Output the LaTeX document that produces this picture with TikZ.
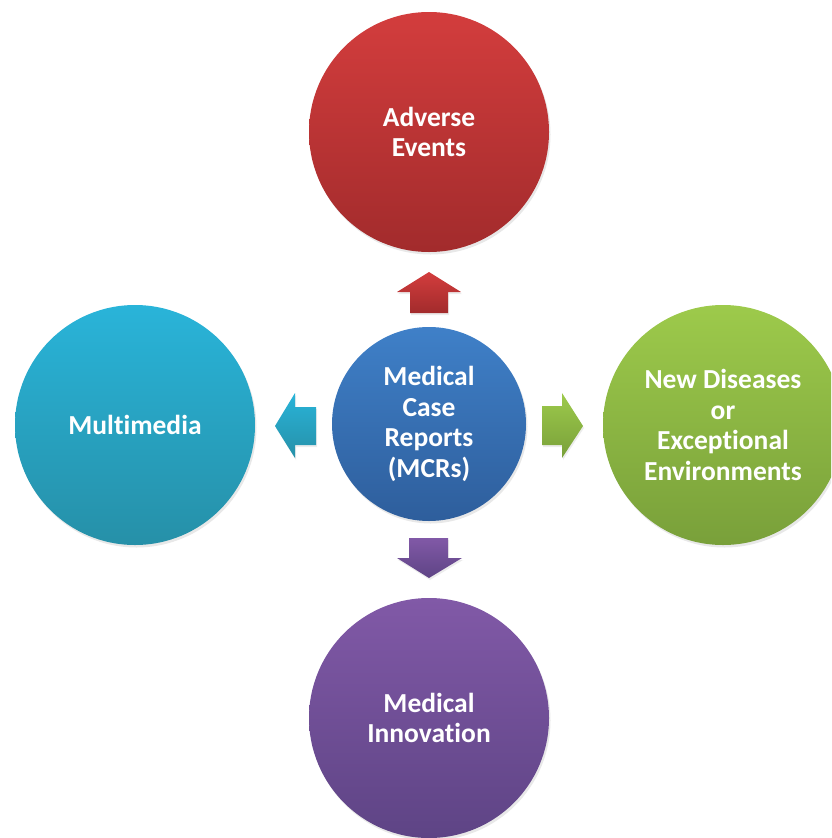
\documentclass[tikz,border=0pt]{standalone}
\usepackage{fontspec}
\setmainfont[Ligatures=NoCommon]{Carlito}
\usetikzlibrary{shadows}
\definecolor{redT}{HTML}{D33D3D}
\definecolor{redB}{HTML}{A22B2C}
\definecolor{bluT}{HTML}{3F80C8}
\definecolor{bluB}{HTML}{2E5E9C}
\definecolor{cyaT}{HTML}{29B4D9}
\definecolor{cyaB}{HTML}{2690A8}
\definecolor{griT}{HTML}{9DCA4B}
\definecolor{griB}{HTML}{79A03A}
\definecolor{purT}{HTML}{8159A7}
\definecolor{purB}{HTML}{5E4485}
\begin{document}
\begin{tikzpicture}[x=1pt,y=-1pt,
  bubble/.style={circle, inner sep=0pt, minimum size=240pt, text=white, align=center,
    font=\bfseries\fontsize{27.5}{30.5}\selectfont,
    drop shadow={opacity=0.18, shadow xshift=1.5pt, shadow yshift=-2.5pt}},
  blk/.style={drop shadow={opacity=0.15, shadow xshift=1pt, shadow yshift=-2pt}}]
\useasboundingbox (0,0) rectangle (831,838);
\clip (0,0) rectangle (831,838);
% circles
\node[bubble, top color=redT, bottom color=redB] (adv) at (429,132) {Adverse\\Events};
\node[bubble, top color=cyaT, bottom color=cyaB] (mul) at (135,425) {Multimedia};
\node[bubble, top color=griT, bottom color=griB] (new) at (723,425) {New Diseases\\or\\Exceptional\\Environments};
\node[bubble, top color=purT, bottom color=purB] (inn) at (429,718) {Medical\\Innovation};
\node[bubble, minimum size=194pt, top color=bluT, bottom color=bluB] (mcr) at (429,424) {Medical\\Case\\Reports\\(MCRs)};
% block arrows
\shade[blk, top color=redT, bottom color=redB]
  (397,292) -- (429,272) -- (461,292) -- (448,292) -- (448,313) -- (410,313) -- (410,292) -- cycle;
\shade[blk, top color=purT, bottom color=purB]
  (409,538) -- (448,538) -- (448,558) -- (462,558) -- (429,578) -- (397,558) -- (409,558) -- cycle;
\shade[blk, top color=cyaT, bottom color=cyaB]
  (275,426) -- (295,393) -- (295,407) -- (316,407) -- (316,445) -- (295,445) -- (295,458) -- cycle;
\shade[blk, top color=griT, bottom color=griB]
  (542,406) -- (562,406) -- (562,393) -- (583,426) -- (562,458) -- (562,445) -- (542,445) -- cycle;
\end{tikzpicture}
\end{document}
